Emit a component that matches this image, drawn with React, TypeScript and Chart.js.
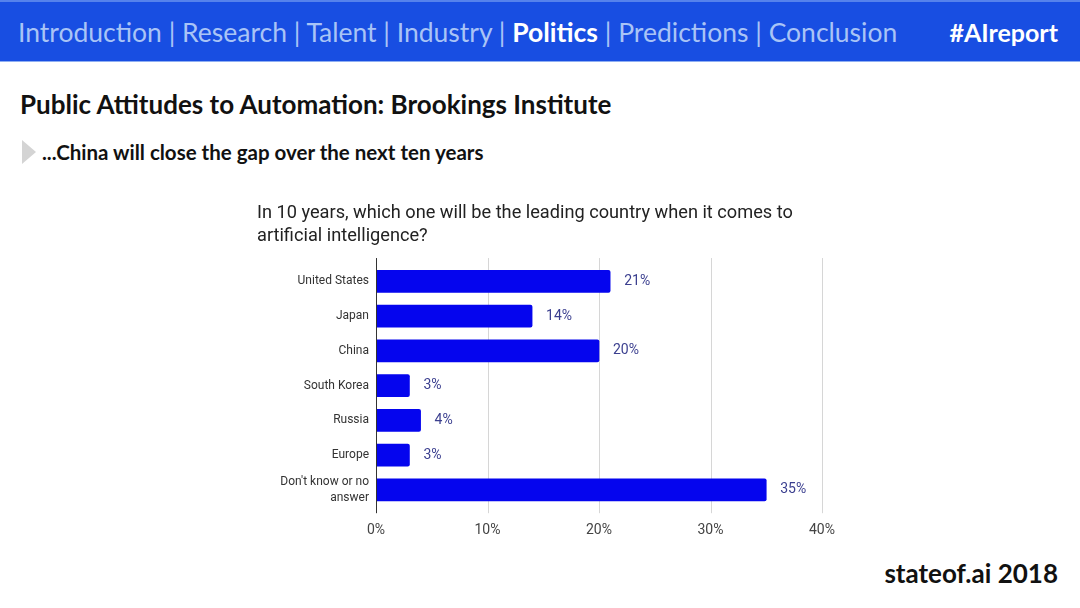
import React, { useEffect, useRef } from "react";
import { Chart, registerables } from "chart.js";

Chart.register(...registerables);

const categories: (string | string[])[] = [
  "United States",
  "Japan",
  "China",
  "South Korea",
  "Russia",
  "Europe",
  ["Don't know or no", "answer"],
];
const shares = [21, 14, 20, 3, 4, 3, 35];
const xTicks = [0, 10, 20, 30, 40];
const chartTitle = [
  "In 10 years, which one will be the leading country when it comes to",
  "artificial intelligence?",
];
const navBefore = "Introduction | Research | Talent | Industry | ";
const navActive = "Politics";
const navAfter = " | Predictions | Conclusion";

const GRID_EXT = 6;

const gridPlugin = {
  id: "customGrid",
  beforeDatasetsDraw(chart: any) {
    const { ctx, chartArea, scales } = chart;
    const x = scales.x;
    ctx.save();
    ctx.lineWidth = 1;
    ctx.strokeStyle = "#d6d6d6";
    xTicks.forEach((t) => {
      if (t === 0) return;
      const px = Math.round(x.getPixelForValue(t)) + 0.5;
      ctx.beginPath();
      ctx.moveTo(px, chartArea.top - GRID_EXT);
      ctx.lineTo(px, chartArea.bottom + GRID_EXT);
      ctx.stroke();
    });
    ctx.restore();
  },
  afterDatasetsDraw(chart: any) {
    const { ctx, chartArea, scales } = chart;
    const x = scales.x;
    ctx.save();
    ctx.strokeStyle = "#333333";
    ctx.lineWidth = 1;
    const px = Math.round(x.getPixelForValue(0)) + 0.5;
    ctx.beginPath();
    ctx.moveTo(px, chartArea.top - GRID_EXT);
    ctx.lineTo(px, chartArea.bottom + GRID_EXT);
    ctx.stroke();
    // value labels
    const meta = chart.getDatasetMeta(0);
    ctx.fillStyle = "#3b3f8f";
    ctx.font = "14px Roboto";
    ctx.textAlign = "left";
    ctx.textBaseline = "middle";
    meta.data.forEach((bar: any, i: number) => {
      ctx.fillText(shares[i] + "%", bar.x + 14, bar.y);
    });
    ctx.restore();
  },
};

function BarChart() {
  const ref = useRef<HTMLCanvasElement>(null);
  useEffect(() => {
    if (!ref.current) return;
    const chart = new Chart(ref.current, {
      type: "bar",
      data: {
        labels: categories,
        datasets: [
          {
            data: shares,
            backgroundColor: "#0505ee",
            borderRadius: 2,
            borderSkipped: "start",
            barThickness: 22,
          },
        ],
      },
      options: {
        indexAxis: "y",
        animation: false,
        responsive: true,
        maintainAspectRatio: false,
        layout: { padding: { right: 38, bottom: 3, left: 0, top: 0 } },
        plugins: {
          legend: { display: false },
          tooltip: { enabled: false },
          title: {
            display: true,
            text: chartTitle,
            align: "start",
            color: "#222222",
            font: { family: "Roboto", size: 18.2, weight: "normal", lineHeight: 1.265 },
            padding: { top: 13, bottom: 16 },
          },
        },
        scales: {
          x: {
            min: 0,
            max: 40,
            grid: { display: false, drawTicks: false },
            border: { display: false },
            afterBuildTicks(scale: any) {
              scale.ticks = xTicks.map((v) => ({ value: v }));
            },
            ticks: {
              padding: 15,
              color: "#444444",
              font: { family: "Roboto", size: 14 },
              callback: (v: any) => v + "%",
            },
          },
          y: {
            grid: { display: false, drawTicks: false },
            border: { display: false },
            afterFit(scale: any) {
              scale.width = 119;
            },
            ticks: {
              padding: 7,
              color: "#333333",
              font: { family: "Roboto", size: 12, lineHeight: 1.3 },
            },
          },
        },
      },
      plugins: [gridPlugin],
    });
    return () => chart.destroy();
  }, []);
  return (
    <div style={{ position: "absolute", left: 257, top: 189, width: 603, height: 368 }}>
      <canvas ref={ref} />
    </div>
  );
}

export default function App() {
  const slideFont = "Lato, 'Open Sans', sans-serif";
  return (
    <div
      style={{
        position: "fixed",
        left: 0,
        top: 0,
        width: 1080,
        height: 608,
        background: "#ffffff",
        overflow: "hidden",
        fontFamily: slideFont,
      }}
    >
      <div
        style={{
          position: "absolute",
          left: 0,
          top: 0,
          width: 1080,
          height: 62,
          background: "#184ee2",
          borderTop: "2px solid #5582ec",
          boxSizing: "border-box",
          borderBottom: "1px solid #8eaef2",
        }}
      />
      <div
        style={{
          position: "absolute",
          left: 18,
          top: 15,
          fontSize: 26.5,
          lineHeight: "34px",
          color: "#a9c4f6",
          whiteSpace: "nowrap",
        }}
      >
        {navBefore}
        <span style={{ color: "#ffffff", fontWeight: 700 }}>{navActive}</span>
        {navAfter}
      </div>
      <div
        style={{
          position: "absolute",
          right: 22,
          top: 15,
          fontSize: 25,
          lineHeight: "34px",
          color: "#ffffff",
          fontWeight: 700,
          whiteSpace: "nowrap",
        }}
      >
        #AIreport
      </div>
      <div
        style={{
          position: "absolute",
          left: 20,
          top: 88,
          fontSize: 26,
          lineHeight: "32px",
          color: "#111111",
          fontWeight: 700,
          whiteSpace: "nowrap",
        }}
      >
        Public Attitudes to Automation: Brookings Institute
      </div>
      <div
        style={{
          position: "absolute",
          left: 22,
          top: 140,
          width: 0,
          height: 0,
          borderTop: "12px solid transparent",
          borderBottom: "12px solid transparent",
          borderLeft: "14px solid #d4d4d4",
        }}
      />
      <div
        style={{
          position: "absolute",
          left: 42,
          top: 139,
          fontSize: 20.5,
          lineHeight: "26px",
          color: "#111111",
          fontWeight: 700,
          whiteSpace: "nowrap",
        }}
      >
        ...China will close the gap over the next ten years
      </div>
      <BarChart />
      <div
        style={{
          position: "absolute",
          right: 22,
          top: 557,
          fontSize: 26,
          lineHeight: "32px",
          color: "#111111",
          fontWeight: 700,
          whiteSpace: "nowrap",
        }}
      >
        stateof.ai 2018
      </div>
    </div>
  );
}
